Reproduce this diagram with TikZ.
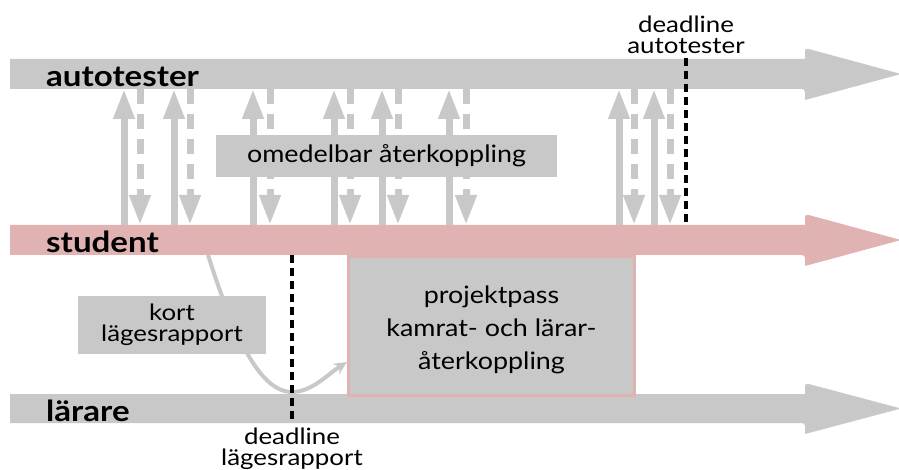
\documentclass[tikz,border=0pt]{standalone}
\usepackage{fontspec}
\setmainfont{Lato}
\newfontfamily\widefont[FakeStretch=1.14]{Lato}
\newfontfamily\midfont[FakeStretch=1.12]{Lato}
\newfontfamily\smallfont[FakeStretch=1.15]{Lato}
\usetikzlibrary{arrows.meta}
\definecolor{bandgray}{RGB}{200,200,200}
\definecolor{bandpink}{RGB}{224,178,178}
\begin{document}
\begin{tikzpicture}[x=1pt,y=-1pt,
  uparrow/.style={draw=bandgray, line width=7pt, -{Triangle[width=20pt,length=30pt]}},
  downarrow/.style={uparrow, dash pattern=on 15pt off 10pt},
  greybox/.style={fill=bandgray, inner sep=0pt, text=black, align=center},
  lanelabel/.style={font=\widefont\fontsize{29}{30}\selectfont\bfseries, anchor=base west, inner sep=0pt},
  midtext/.style={font=\midfont\fontsize{24}{33}\selectfont},
  smalltext/.style={font=\smallfont\fontsize{22.5}{20.5}\selectfont},
  deadline/.style={draw=black, line width=4pt, dash pattern=on 8pt off 5pt},
  curvearrow/.style={draw=bandgray, line width=4pt, -{Stealth[length=13pt,width=12pt]}}
]
\useasboundingbox (0,0) rectangle (899,470);

% lanes
\fill[bandgray] (10,59) -- (805,59) [rounded corners=3pt] -- (805,48) [sharp corners] -- (901,74) -- (805,100) [rounded corners=3pt] -- (805,89) [sharp corners] -- (10,89) -- cycle;
\fill[bandpink] (10,225) -- (805,225) [rounded corners=3pt] -- (805,214) [sharp corners] -- (901,240) -- (805,266) [rounded corners=3pt] -- (805,255) [sharp corners] -- (10,255) -- cycle;
\fill[bandgray] (10,394) -- (805,394) [rounded corners=3pt] -- (805,383) [sharp corners] -- (901,408.5) -- (805,434) [rounded corners=3pt] -- (805,423) [sharp corners] -- (10,423) -- cycle;

\coordinate (autoS) at (0,89);
\coordinate (studN) at (0,225);
\coordinate (studS) at (0,255);
\coordinate (autoN) at (0,58);
\coordinate (larS) at (0,423);

\node[lanelabel] (lauto) at (46,87) {autotester};
\node[lanelabel] (lstud) at (46,253) {student};
\node[lanelabel] (llar) at (46,421) {lärare};

% vertical arrows
\foreach \u in {124,174,253,334,382,449,619,654}
  \draw[uparrow] (studN -| \u,0) -- (autoS -| \u,0);
\foreach \d in {140,190,270,350,398,466,634,670}
  \draw[downarrow] (autoS -| \d,0) -- (studN -| \d,0);

\node[greybox, midtext, minimum width=341pt, minimum height=42pt] (omed) at (386.5,156) {omedelbar återkoppling};

% deadline autotester
\draw[deadline] (autoN -| 686,0) -- (studN -| 686,0);
\node[smalltext, align=center, inner sep=0pt] (dla) at (686,35) {deadline\\autotester};

% curve from student to project session
\node[greybox, draw=bandpink, line width=3pt, minimum width=286pt, minimum height=139pt] (proj) at (491.5,326) {};
\node[midtext, align=center, inner sep=0pt] (projtext) at (491.5,330) {projektpass\\kamrat- och lärar-\\återkoppling};
\draw[curvearrow] (studS -| 208,0) .. controls (232,330) and (258,392) .. (292,392) .. controls (312,392) and (328,374) .. (proj.west |- 0,362);
\node[greybox, smalltext, minimum width=188pt, minimum height=58pt] (kort) at (172,325) {kort\\lägesrapport};

% deadline lägesrapport
\draw[deadline] (studS -| 292,0) -- (larS -| 292,0);
\node[smalltext, align=center, inner sep=0pt] (dll) at (292,449) {deadline\\lägesrapport};
\end{tikzpicture}
\end{document}
